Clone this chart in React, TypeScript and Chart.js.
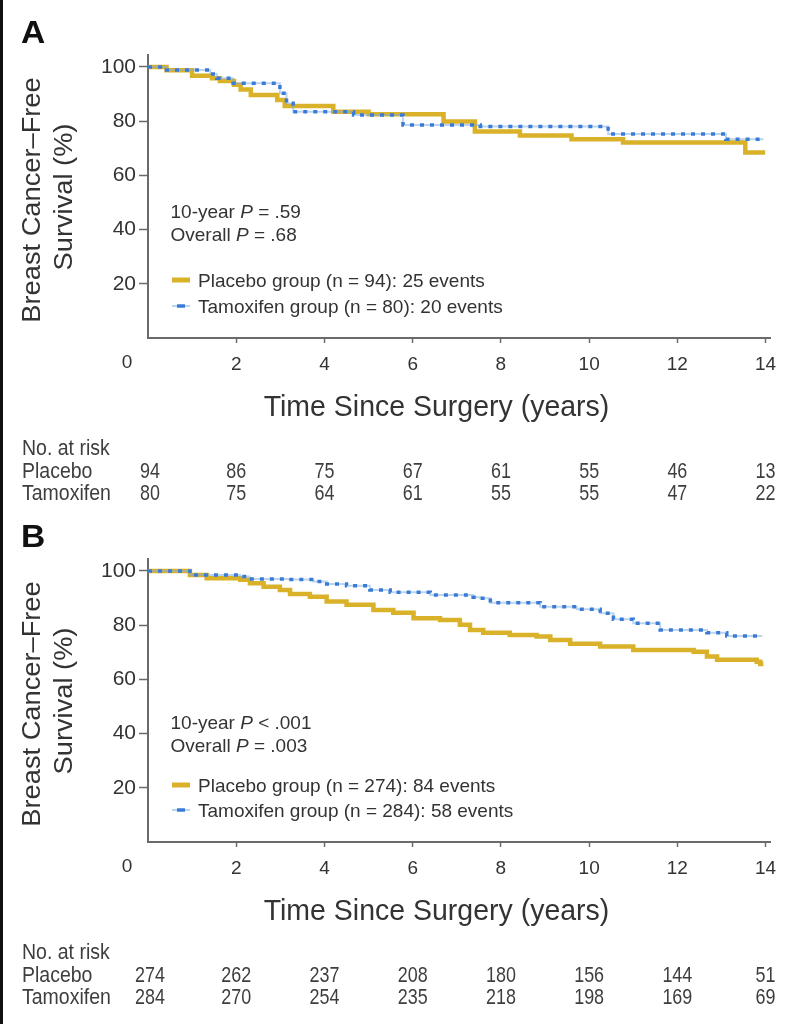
import React, { useEffect, useRef } from 'react';
import { Chart, registerables } from 'chart.js';

Chart.register(...registerables);

const FONT = '"Liberation Sans", Arial, Helvetica, sans-serif';
const GOLD = '#d9b22a';
const BLUE = '#3a7bd5';
const BLUE_FAINT = 'rgba(120,170,230,0.5)';
const TEXT = '#333333';
const RISK_TEXT = '#3e3e3e';
const AXIS = '#6a6a6a';

// ---- shared axis values ----
const RISK_YEARS = [0, 2, 4, 6, 8, 10, 12, 14];
const X_TICKS = [2, 4, 6, 8, 10, 12, 14];
const Y_TICKS = [20, 40, 60, 80, 100];

// ---- Panel A ----
const A_PLACEBO_TIME = [0, 0.42, 1.0, 1.45, 1.63, 1.95, 2.1, 2.33, 2.93, 3.1, 4.2, 5.0, 6.7, 7.41, 8.43, 9.6, 10.77, 13.54, 13.99];
const A_PLACEBO_SURV = [100, 98.8, 96.7, 95.8, 94.8, 93.4, 91.7, 89.6, 87.8, 85.6, 83.5, 82.5, 79.9, 76.2, 74.7, 73.3, 72.1, 68.4, 68.4];
const A_TAMOX_TIME = [0, 0.42, 1.41, 1.56, 1.93, 2.99, 3.14, 3.29, 4.66, 5.78, 7.53, 10.43, 13.1, 13.95];
const A_TAMOX_SURV = [100, 98.9, 97.4, 95.8, 94.0, 90.3, 86.6, 83.5, 82.3, 78.6, 78.0, 75.3, 73.3, 73.3];
const A_RISK_PLACEBO = [94, 86, 75, 67, 61, 55, 46, 13];
const A_RISK_TAMOX = [80, 75, 64, 61, 55, 55, 47, 22];
const A_P_LINES = [['10-year ', 'P', ' = .59'], ['Overall ', 'P', ' = .68']];
const A_LEGEND = ['Placebo group (n = 94): 25 events', 'Tamoxifen group (n = 80): 20 events'];

// ---- Panel B ----
const B_PLACEBO_TIME = [0, 0.95, 1.33, 2.09, 2.31, 2.62, 2.99, 3.22, 3.67, 4.05, 4.5, 5.11, 5.56, 6.02, 6.62, 7.07, 7.3, 7.6, 8.2, 8.81, 9.12, 9.57, 10.25, 11.0, 12.37, 12.67, 12.9, 13.8, 13.88, 13.95];
const B_PLACEBO_SURV = [100, 98.5, 97.3, 96.7, 95.5, 94.2, 93.0, 91.5, 90.5, 88.7, 87.5, 85.6, 84.6, 82.5, 81.9, 80.1, 78.2, 77.2, 76.4, 75.8, 74.5, 73.1, 72.1, 70.8, 70.2, 68.4, 67.2, 66.5, 65.7, 65.7];
const B_TAMOX_TIME = [0, 0.95, 2.09, 2.3, 3.2, 3.75, 4.05, 4.5, 5.03, 5.49, 6.4, 7.37, 7.53, 7.76, 8.89, 9.72, 10.25, 10.55, 11.0, 11.61, 12.67, 13.12, 13.92];
const B_TAMOX_SURV = [100, 98.5, 97.9, 97.0, 96.8, 96.1, 95.2, 94.5, 93.0, 92.1, 91.1, 90.3, 89.9, 88.3, 86.8, 85.9, 84.4, 82.2, 80.7, 78.2, 77.2, 76.0, 76.0];
const B_RISK_PLACEBO = [274, 262, 237, 208, 180, 156, 144, 51];
const B_RISK_TAMOX = [284, 270, 254, 235, 218, 198, 169, 69];
const B_P_LINES = [['10-year ', 'P', ' < .001'], ['Overall ', 'P', ' = .003']];
const B_LEGEND = ['Placebo group (n = 274): 84 events', 'Tamoxifen group (n = 284): 58 events'];

const Y_TITLE = ['Breast Cancer\u2013Free', 'Survival (%)'];
const X_TITLE = 'Time Since Surgery (years)';
const RISK_LABELS = ['No. at risk', 'Placebo', 'Tamoxifen'];

type PanelDef = {
  letter: string;
  placeboTime: number[];
  placeboSurv: number[];
  tamoxTime: number[];
  tamoxSurv: number[];
  riskPlacebo: number[];
  riskTamox: number[];
  pLines: string[][];
  legend: string[];
  pY: number[];
  legendY: number[];
};

const PANEL_A: PanelDef = {
  letter: 'A',
  placeboTime: A_PLACEBO_TIME, placeboSurv: A_PLACEBO_SURV,
  tamoxTime: A_TAMOX_TIME, tamoxSurv: A_TAMOX_SURV,
  riskPlacebo: A_RISK_PLACEBO, riskTamox: A_RISK_TAMOX,
  pLines: A_P_LINES, legend: A_LEGEND,
  pY: [218, 241], legendY: [287, 313],
};
const PANEL_B: PanelDef = {
  letter: 'B',
  placeboTime: B_PLACEBO_TIME, placeboSurv: B_PLACEBO_SURV,
  tamoxTime: B_TAMOX_TIME, tamoxSurv: B_TAMOX_SURV,
  riskPlacebo: B_RISK_PLACEBO, riskTamox: B_RISK_TAMOX,
  pLines: B_P_LINES, legend: B_LEGEND,
  pY: [225, 248], legendY: [288, 313],
};

function toPoints(t: number[], s: number[]) {
  return t.map((x, i) => ({ x, y: s[i] }));
}

type TOpts = {
  size: number; weight?: string; style?: string; color?: string;
  align?: CanvasTextAlign; baseline?: CanvasTextBaseline;
  sx?: number; sy?: number; rotate?: number;
};

function txt(ctx: CanvasRenderingContext2D, s: string, x: number, y: number, o: TOpts) {
  ctx.save();
  ctx.translate(x, y);
  if (o.rotate) ctx.rotate(o.rotate);
  ctx.scale(o.sx ?? 1, o.sy ?? 1);
  ctx.font = `${o.style ?? 'normal'} ${o.weight ?? 'normal'} ${o.size}px ${FONT}`;
  ctx.fillStyle = o.color ?? TEXT;
  ctx.textAlign = o.align ?? 'left';
  ctx.textBaseline = o.baseline ?? 'alphabetic';
  ctx.fillText(s, 0, 0);
  ctx.restore();
}

function runs(ctx: CanvasRenderingContext2D, parts: string[], x: number, y: number, size: number) {
  let cx = x;
  parts.forEach((p, i) => {
    const italic = i === 1;
    ctx.save();
    ctx.font = `${italic ? 'italic' : 'normal'} normal ${size}px ${FONT}`;
    ctx.fillStyle = TEXT;
    ctx.textAlign = 'left';
    ctx.textBaseline = 'alphabetic';
    ctx.fillText(p, cx, y);
    cx += ctx.measureText(p).width;
    ctx.restore();
  });
}

function KMPanel({ panel, height }: { panel: PanelDef; height: number }) {
  const ref = useRef<HTMLCanvasElement | null>(null);

  useEffect(() => {
    const canvas = ref.current;
    if (!canvas) return;

    const overlay = {
      id: 'overlay',
      afterDraw(chart: any) {
        const ctx: CanvasRenderingContext2D = chart.ctx;
        const xs = chart.scales.x;

        // panel letter
        txt(ctx, panel.letter, 21, 43, { size: 32, weight: 'bold', color: '#111', sx: 1.05 });

        // y axis title (two rotated lines)
        txt(ctx, Y_TITLE[0], 40, 200, { size: 25, rotate: -Math.PI / 2, align: 'center', sx: 1.09 });
        txt(ctx, Y_TITLE[1], 72, 197, { size: 25, rotate: -Math.PI / 2, align: 'center', sx: 1.09 });

        // corner zero label
        txt(ctx, '0', 127, xs.top + 15, { size: 19, align: 'center', baseline: 'top' });

        // x axis title
        txt(ctx, X_TITLE, 436.5, 416, { size: 27, align: 'center', sx: 1.055, sy: 1.08 });

        // p values
        panel.pLines.forEach((line, i) => runs(ctx, line, 170.5, panel.pY[i], 19));

        // legend
        const [ly0, ly1] = panel.legendY;
        ctx.save();
        ctx.lineCap = 'butt';
        ctx.strokeStyle = GOLD;
        ctx.lineWidth = 5;
        ctx.beginPath();
        ctx.moveTo(172, ly0 - 7);
        ctx.lineTo(190, ly0 - 7);
        ctx.stroke();
        ctx.strokeStyle = BLUE_FAINT;
        ctx.lineWidth = 2;
        ctx.beginPath();
        ctx.moveTo(172, ly1 - 7);
        ctx.lineTo(190, ly1 - 7);
        ctx.stroke();
        ctx.strokeStyle = BLUE;
        ctx.lineWidth = 3.5;
        ctx.beginPath();
        ctx.moveTo(177, ly1 - 7);
        ctx.lineTo(185, ly1 - 7);
        ctx.stroke();
        ctx.restore();
        txt(ctx, panel.legend[0], 198, ly0, { size: 19 });
        txt(ctx, panel.legend[1], 198, ly1, { size: 19 });

        // number at risk table
        const rowY = [455, 478, 500];
        const rOpts: TOpts = { size: 19.5, sx: 1.0, sy: 1.14, color: RISK_TEXT };
        txt(ctx, RISK_LABELS[0], 22, rowY[0], rOpts);
        txt(ctx, RISK_LABELS[1], 22, rowY[1], rOpts);
        txt(ctx, RISK_LABELS[2], 22, rowY[2], rOpts);
        RISK_YEARS.forEach((yr, i) => {
          const px = xs.getPixelForValue(yr) + (i === 0 ? 2 : 0);
          txt(ctx, String(panel.riskPlacebo[i]), px, rowY[1], { ...rOpts, align: 'center', sx: 0.92 });
          txt(ctx, String(panel.riskTamox[i]), px, rowY[2], { ...rOpts, align: 'center', sx: 0.92 });
        });
      },
    };

    const chart = new Chart(canvas, {
      type: 'line',
      data: {
        datasets: [
          {
            label: 'Placebo',
            data: toPoints(panel.placeboTime, panel.placeboSurv),
            borderColor: GOLD,
            borderWidth: 4.5,
            stepped: 'before',
            pointRadius: 0,
            fill: false,
            order: 3,
          },
          {
            label: 'Tamoxifen (trace)',
            data: toPoints(panel.tamoxTime, panel.tamoxSurv),
            borderColor: BLUE_FAINT,
            borderWidth: 2,
            stepped: 'before',
            pointRadius: 0,
            fill: false,
            order: 2,
          },
          {
            label: 'Tamoxifen',
            data: toPoints(panel.tamoxTime, panel.tamoxSurv),
            borderColor: BLUE,
            borderWidth: 3.5,
            borderDash: [4, 6],
            stepped: 'before',
            pointRadius: 0,
            fill: false,
            order: 1,
          },
        ],
      },
      options: {
        animation: false,
        responsive: true,
        maintainAspectRatio: false,
        events: [],
        layout: { padding: { left: 88, right: 27, top: 55, bottom: height - 338 - 40 } },
        plugins: { legend: { display: false }, tooltip: { enabled: false }, title: { display: false } },
        scales: {
          x: {
            type: 'linear',
            min: 0,
            max: 14.1,
            afterBuildTicks: (s: any) => { s.ticks = X_TICKS.map((v) => ({ value: v })); },
            afterFit: (s: any) => { s.height = 40; },
            border: { display: true, color: AXIS, width: 2 },
            grid: { display: true, drawOnChartArea: false, drawTicks: true, tickLength: 5, tickColor: AXIS, tickWidth: 1.5 },
            ticks: { font: { family: FONT, size: 19 }, color: TEXT, padding: 10, maxRotation: 0, minRotation: 0, autoSkip: false },
          },
          y: {
            type: 'linear',
            min: 0,
            max: 104.4,
            afterBuildTicks: (s: any) => { s.ticks = Y_TICKS.map((v) => ({ value: v })); },
            afterFit: (s: any) => { s.width = 60; },
            border: { display: true, color: AXIS, width: 2 },
            grid: { display: true, drawOnChartArea: false, drawTicks: true, tickLength: 9, tickColor: AXIS, tickWidth: 1.5 },
            ticks: { font: { family: FONT, size: 21 }, color: TEXT, padding: 3, autoSkip: false },
          },
        },
      },
      plugins: [overlay],
    } as any);

    return () => chart.destroy();
  }, [panel, height]);

  return (
    <div style={{ position: 'relative', width: 797, height }}>
      <canvas ref={ref} />
    </div>
  );
}

export default function App() {
  return (
    <div style={{ position: 'absolute', left: 0, top: 0, width: 797, height: 1024, background: '#fff', overflow: 'hidden' }}>
      <div style={{ position: 'absolute', left: 0, top: 0 }}>
        <KMPanel panel={PANEL_A} height={504} />
      </div>
      <div style={{ position: 'absolute', left: 0, top: 504 }}>
        <KMPanel panel={PANEL_B} height={520} />
      </div>
      <div style={{ position: 'absolute', left: 0, top: 0, width: 3, height: 1024, background: '#111' }} />
    </div>
  );
}
